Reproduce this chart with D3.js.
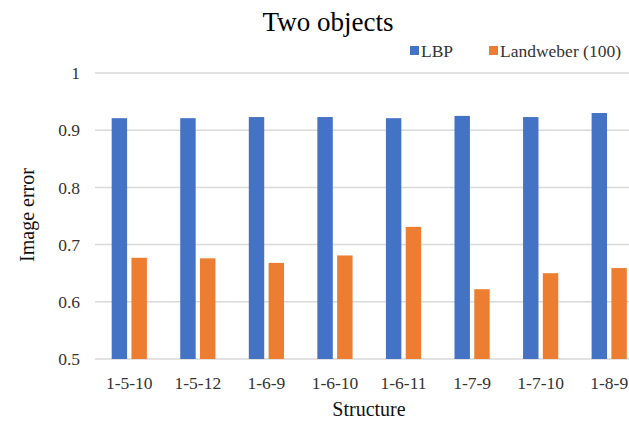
<!DOCTYPE html>
<html>
<head>
<meta charset="utf-8">
<script src="https://cdn.jsdelivr.net/npm/d3@7"></script>
<style>
  html, body { margin: 0; padding: 0; background: #fff; }
  svg { display: block; }
  svg text { font-family: "Liberation Serif", "Times New Roman", serif; }
</style>
</head>
<body>
<svg id="chart" width="629" height="421"></svg>
<script>
const categories = ["1-5-10", "1-5-12", "1-6-9", "1-6-10", "1-6-11", "1-7-9", "1-7-10", "1-8-9"];
const lbp = [0.921, 0.921, 0.923, 0.923, 0.921, 0.925, 0.923, 0.930];
const landweber = [0.677, 0.676, 0.668, 0.681, 0.731, 0.622, 0.650, 0.659];
const seriesNames = ["LBP", "Landweber (100)"];
const seriesColors = ["#4472C4", "#ED7D31"];
const yTicks = [0.5, 0.6, 0.7, 0.8, 0.9, 1];

(function () {
const svg = d3.select("#chart");
const pLeft = 95, pRight = 643.5, pTop = 73, pBottom = 359;

const x = d3.scaleBand().domain(categories).range([pLeft, pRight]).paddingInner(0).paddingOuter(0);
const xs = d3.scaleBand().domain(seriesNames).range([0, 35.2]).paddingInner(0.22);
const y = d3.scaleLinear().domain([0.5, 1]).range([pBottom, pTop]);

// gridlines
svg.append("g").selectAll("line").data(yTicks).join("line")
  .attr("x1", pLeft).attr("x2", 629)
  .attr("y1", d => y(d)).attr("y2", d => y(d))
  .attr("stroke", "#d9d9d9").attr("stroke-width", 1.5);

// y labels
svg.append("g").selectAll("text").data(yTicks).join("text")
  .attr("x", 80).attr("y", d => y(d)).attr("dy", "0.35em")
  .attr("text-anchor", "end").attr("font-size", 17.5).attr("fill", "#333")
  .text(d => d === 1 ? "1" : d3.format(".1f")(d));

// bars
const data = categories.map((c, i) => ({cat: c, vals: [lbp[i], landweber[i]]}));
const groups = svg.append("g").selectAll("g").data(data).join("g")
  .attr("transform", d => `translate(${x(d.cat) + (x.bandwidth() - 35.2) / 2},0)`);
groups.selectAll("rect").data(d => d.vals.map((v, j) => ({v, s: seriesNames[j], j}))).join("rect")
  .attr("x", d => xs(d.s)).attr("width", xs.bandwidth())
  .attr("y", d => y(d.v)).attr("height", d => y(0.5) - y(d.v))
  .attr("fill", d => seriesColors[d.j]);

// x labels
svg.append("g").selectAll("text").data(categories).join("text")
  .attr("x", d => x(d) + x.bandwidth() / 2).attr("y", 389)
  .attr("text-anchor", "middle").attr("font-size", 17.5).attr("fill", "#333")
  .text(d => d);

// title
svg.append("text").attr("x", 328).attr("y", 31).attr("text-anchor", "middle")
  .attr("font-size", 27).attr("fill", "#000").text("Two objects");

// axis titles
svg.append("text").attr("x", 369).attr("y", 416).attr("text-anchor", "middle")
  .attr("font-size", 20).attr("fill", "#111").text("Structure");
svg.append("text").attr("transform", "translate(34,215) rotate(-90)").attr("text-anchor", "middle")
  .attr("font-size", 20).attr("fill", "#111").text("Image error");

// legend
const legendX = [410, 489];
seriesNames.forEach((s, i) => {
  svg.append("rect").attr("x", legendX[i]).attr("y", 46).attr("width", 9).attr("height", 9).attr("fill", seriesColors[i]);
  svg.append("text").attr("x", legendX[i] + 11).attr("y", 57).attr("font-size", 17.5).attr("fill", "#333").text(s);
});
})();
</script>
</body>
</html>
